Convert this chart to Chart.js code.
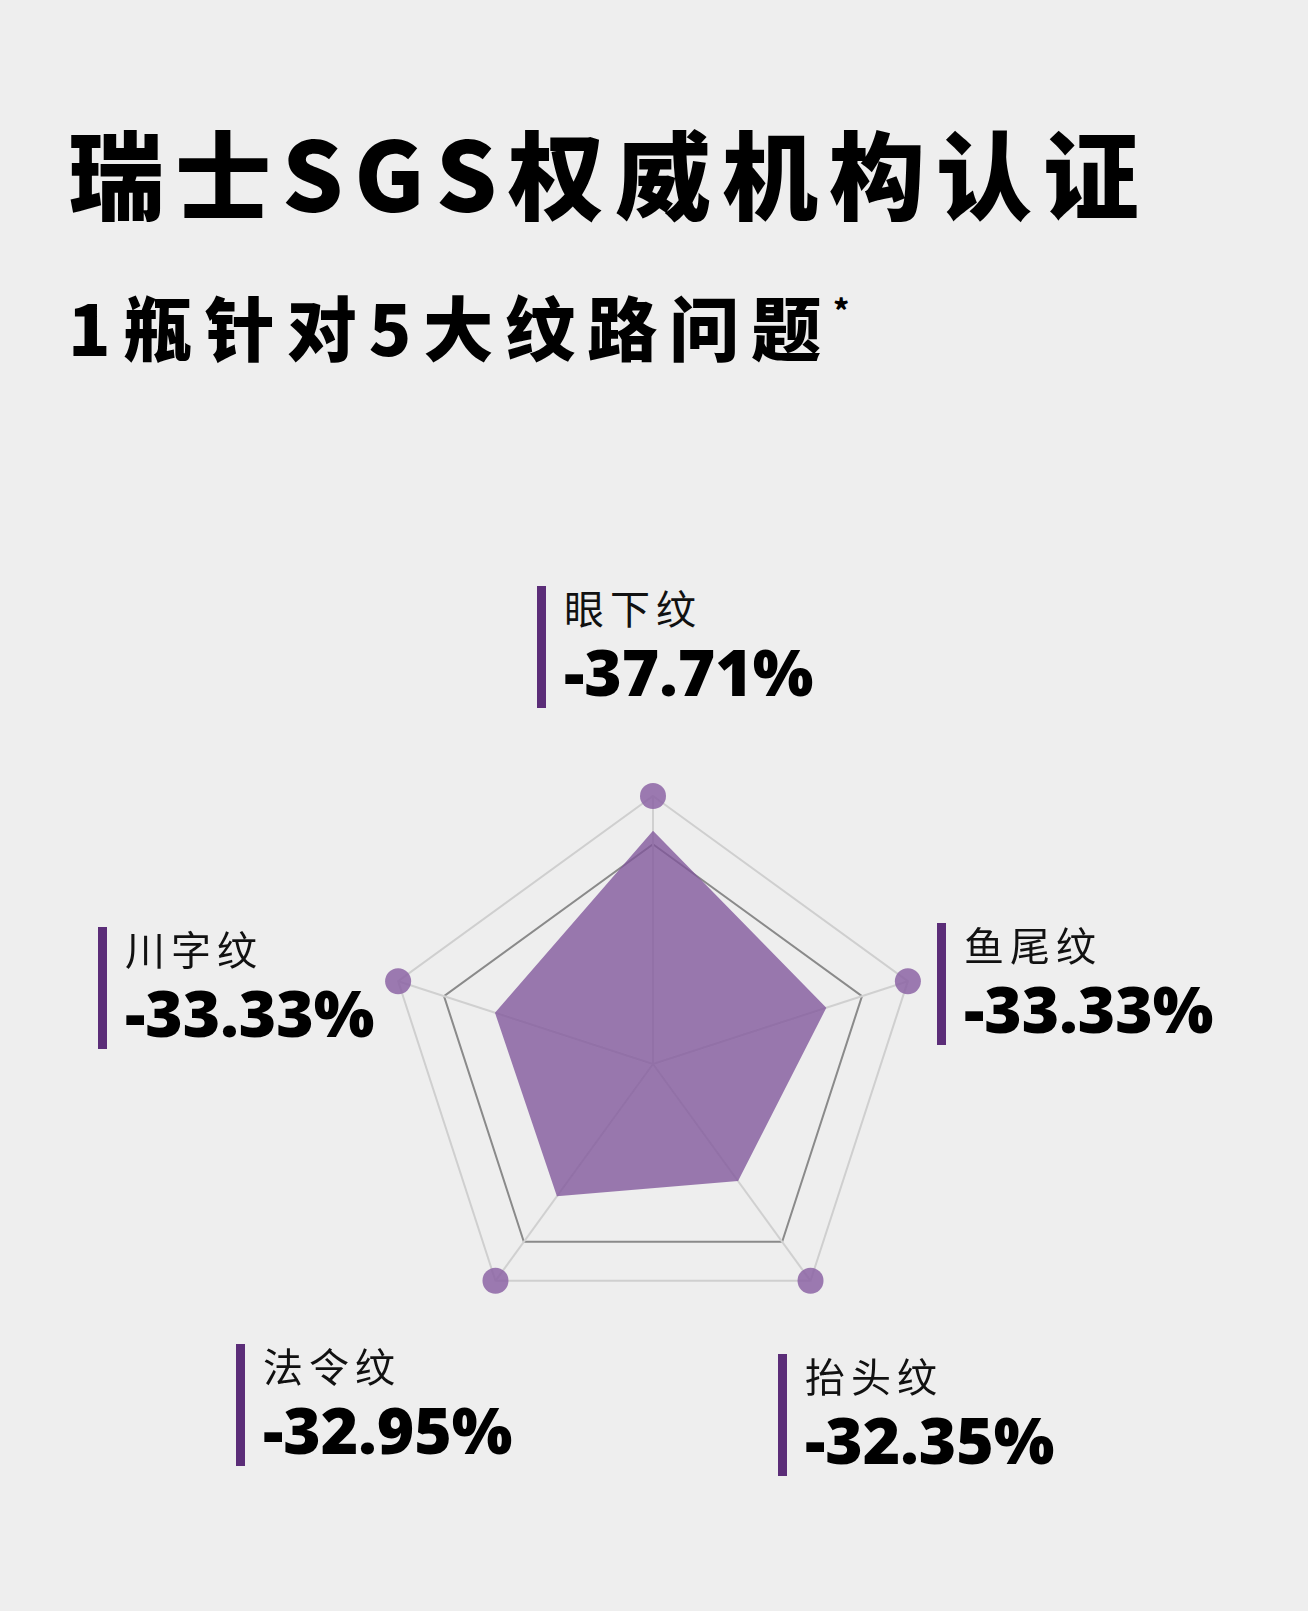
<!DOCTYPE html>
<html>
<head>
<meta charset="utf-8">
<script src="https://cdn.jsdelivr.net/npm/chart.js@4"></script>
<style>
  body { margin: 0; background: #eeeeee; font-family: "Noto Sans CJK SC", sans-serif; }
  #page { position: relative; width: 1308px; height: 1611px; overflow: hidden; }
  h1 { position: absolute; left: 68px; top: 113px; margin: 0; font-size: 96px; font-weight: 900; letter-spacing: 11px; color: #000; line-height: 1.2; }
  h2 { position: absolute; left: 68px; top: 280px; margin: 0; font-size: 70px; font-weight: 900; letter-spacing: 12px; color: #000; line-height: 1.3; }
  h2 sup { font-size: 30px; vertical-align: 34px; letter-spacing: 0; }
  #wrap { position: absolute; left: 353px; top: 764px; width: 600px; height: 600px; }
  .lbl { position: absolute; border-left: 9px solid #5b2d78; padding-left: 18px; height: 122px; box-sizing: border-box; }
  .lbl .n { font-size: 40px; letter-spacing: 6px; line-height: 46px; color: #111; margin-top: -2px; }
  .lbl .v { font-size: 64px; font-weight: 900; line-height: 64px; margin-top: 10px; color: #000; font-family: "Noto Sans", sans-serif; }
</style>
</head>
<body>
<div id="page">
  <h1>瑞士SGS权威机构认证</h1>
  <h2>1瓶针对5大纹路问题<sup>*</sup></h2>
  <div id="wrap"><canvas id="radar"></canvas></div>
</div>
<script>
// 五大纹路，按雷达图顺时针顺序
const categories = ['眼下纹', '鱼尾纹', '抬头纹', '法令纹', '川字纹'];
const reductions = ['-37.71%', '-33.33%', '-32.35%', '-32.95%', '-33.33%'];
const shapeValues = [87, 68, 54, 61, 62];
const outerValues = [100, 100, 100, 100, 100];
const ringValues = [0, 82, 100];
// 标签框左上角
const labelSpots = [[537, 586], [937, 923], [778, 1354], [236, 1344], [98, 927]];

const page = document.getElementById('page');
categories.forEach((name, i) => {
  const div = document.createElement('div');
  div.className = 'lbl';
  div.style.left = labelSpots[i][0] + 'px';
  div.style.top = labelSpots[i][1] + 'px';
  div.innerHTML = `<div class="n">${name}</div><div class="v">${reductions[i]}</div>`;
  page.appendChild(div);
});

new Chart(document.getElementById('radar'), {
  type: 'radar',
  data: {
    labels: categories,
    datasets: [
      {
        data: outerValues,
        showLine: false,
        fill: false,
        pointRadius: 13,
        pointBackgroundColor: 'rgba(140,100,165,0.85)',
        pointBorderWidth: 0
      },
      {
        data: shapeValues,
        fill: true,
        backgroundColor: 'rgba(128,86,155,0.78)',
        borderWidth: 0,
        pointRadius: 0
      }
    ]
  },
  options: {
    responsive: true,
    maintainAspectRatio: false,
    animation: false,
    layout: { padding: 32 },
    plugins: { legend: { display: false }, tooltip: { enabled: false } },
    scales: {
      r: {
        min: 0,
        max: 100,
        afterBuildTicks: axis => { axis.ticks = ringValues.map(v => ({ value: v })); },
        ticks: { display: false },
        pointLabels: { display: false },
        grid: {
          color: ctx => ctx.tick.value === 82 ? '#8a8a8a' : '#cfcfcf',
          lineWidth: 2
        },
        angleLines: { color: '#d0d0d0', lineWidth: 2 }
      }
    }
  }
});
</script>
</body>
</html>
